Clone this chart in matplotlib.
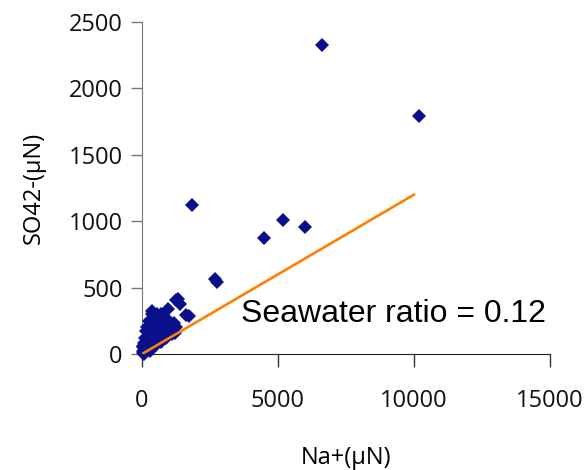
import matplotlib.pyplot as plt

# Na+ vs SO4(2-) concentrations (uN)
na = [6600, 10200, 1850, 4480, 5170, 6000, 2670, 2740, 1330, 1410, 1240,
      1710, 1600, 380, 950, 820, 1160,
      20, 50, 80, 100, 120, 150, 180, 200, 220, 250, 280, 300, 320, 350,
      380, 400, 420, 450, 470, 500, 520, 550, 580, 600, 620, 650, 700, 720,
      750, 800, 820, 850, 900, 1000, 1050, 1100, 1150, 1200, 1250, 350,
      250, 150, 100, 60, 30, 180, 450, 550, 700, 300, 500, 700, 900, 1100,
      60, 120, 200, 40]
so4 = [2330, 1790, 1120, 870, 1010, 960, 565, 545, 415, 380, 405,
       284, 297, 322, 340, 284, 234,
       5, 20, 10, 40, 60, 30, 80, 50, 110, 90, 140, 70, 180, 120,
       220, 160, 260, 100, 200, 140, 240, 180, 120, 280, 210, 160, 240, 130,
       190, 220, 280, 170, 250, 200, 230, 180, 220, 160, 200, 300,
       250, 170, 120, 80, 50, 200, 280, 300, 300, 20, 70, 90, 120, 150,
       0, 15, 30, 60]

# seawater SO4/Na ratio line
ratio = 0.12
line_x = [0, 10000]
line_y = [ratio * v for v in line_x]

fig = plt.figure(figsize=(5.84, 4.70), dpi=100)
ax = fig.add_axes([142 / 584, 1 - 354 / 470, 408 / 584, 332 / 470])

ax.plot(na, so4, linestyle='none', marker='D', markersize=7.5,
        color='#0a0f8c', markeredgewidth=0, clip_on=False, zorder=3)
ax.plot(line_x, line_y, color='#ff8000', linewidth=1.9, zorder=4)

ax.text(3650, 300, 'Seawater ratio = %.2f' % ratio, fontsize=23,
        family='Liberation Sans', va='center', ha='left')

ax.set_xlim(0, 15000)
ax.set_ylim(0, 2500)
ax.set_xticks([0, 5000, 10000, 15000])
ax.set_yticks([0, 500, 1000, 1500, 2000, 2500])

tick_font = 'Open Sans'
for lab in ax.get_xticklabels() + ax.get_yticklabels():
    lab.set_family(tick_font)
    lab.set_fontsize(17)
    lab.set_color('#111111')

ax.tick_params(axis='x', length=9, width=1, pad=16, color='#333333')
ax.tick_params(axis='y', length=8, width=1, pad=6, color='#777777')

ax.spines['top'].set_visible(False)
ax.spines['right'].set_visible(False)
ax.spines['left'].set_color('#777777')
ax.spines['bottom'].set_color('#222222')

ax.set_xlabel('Na+(μN)', family=tick_font, fontsize=17, labelpad=24)
ax.set_ylabel('SO42-(μN)', family=tick_font, fontsize=17, labelpad=16)

fig.savefig('out.png', dpi=100)
